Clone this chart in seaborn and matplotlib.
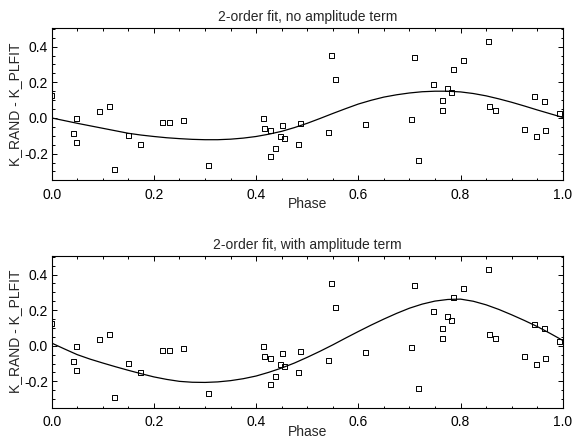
import numpy as np
import pandas as pd
import matplotlib
matplotlib.use("Agg")
import matplotlib.pyplot as plt
import seaborn as sns
from matplotlib.ticker import MultipleLocator, FormatStrFormatter

# ---- data ----
phase = [0.000, 0.0476, 0.0436, 0.0480, 0.0930, 0.1135, 0.1226, 0.1507, 0.1734,
         0.2159, 0.2309, 0.2576, 0.3059, 0.4141, 0.4168, 0.4272, 0.4291, 0.4376,
         0.4468, 0.4513, 0.4560, 0.4820, 0.4860, 0.5407, 0.5466, 0.5544, 0.6131,
         0.7037, 0.7090, 0.7174, 0.7462, 0.7644, 0.7651, 0.7750, 0.7820, 0.7853,
         0.8055, 0.8538, 0.8564, 0.8689, 0.9243, 0.9452, 0.9483, 0.9648, 0.9667,
         0.9934]
resid = [0.125, -0.004, -0.086, -0.138, 0.035, 0.062, -0.288, -0.097, -0.149,
         -0.024, -0.026, -0.015, -0.267, -0.004, -0.058, -0.069, -0.218, -0.172,
         -0.105, -0.045, -0.114, -0.148, -0.032, -0.082, 0.349, 0.213, -0.037,
         -0.009, 0.338, -0.239, 0.190, 0.099, 0.043, 0.166, 0.140, 0.273,
         0.323, 0.426, 0.066, 0.043, -0.063, 0.122, -0.106, 0.095, -0.071,
         0.024]

fit_phase = [0.000, 0.025, 0.050, 0.075, 0.100, 0.125, 0.150, 0.175, 0.200,
             0.225, 0.250, 0.275, 0.300, 0.325, 0.350, 0.375, 0.400, 0.425,
             0.450, 0.475, 0.500, 0.525, 0.550, 0.575, 0.600, 0.625, 0.650,
             0.675, 0.700, 0.725, 0.750, 0.775, 0.800, 0.825, 0.850, 0.875,
             0.900, 0.925, 0.950, 0.975, 1.000]
fit_no_amp = [0.000, -0.015, -0.030, -0.044, -0.058, -0.072, -0.086, -0.096,
              -0.104, -0.111, -0.116, -0.120, -0.122, -0.122, -0.119, -0.113,
              -0.104, -0.091, -0.075, -0.054, -0.030, -0.003, 0.025, 0.052,
              0.078, 0.099, 0.117, 0.130, 0.140, 0.147, 0.150, 0.150, 0.146,
              0.137, 0.124, 0.107, 0.088, 0.067, 0.045, 0.024, 0.003]
fit_amp = [0.015, -0.018, -0.050, -0.075, -0.097, -0.118, -0.138, -0.157,
           -0.175, -0.189, -0.200, -0.205, -0.206, -0.203, -0.196, -0.185,
           -0.170, -0.149, -0.125, -0.097, -0.065, -0.031, 0.005, 0.043,
           0.080, 0.116, 0.150, 0.182, 0.211, 0.234, 0.251, 0.260, 0.262,
           0.250, 0.230, 0.204, 0.174, 0.142, 0.108, 0.070, 0.030]

titles = ["2-order fit, no amplitude term", "2-order fit, with amplitude term"]
xlabel = "Phase"
ylabel = "K_RAND - K_PLFIT"

# ---- style ----
sns.set_style("ticks")
plt.rcParams["font.family"] = ["Liberation Sans", "DejaVu Sans"]
FS = 10

fig = plt.figure(figsize=(5.72, 4.4), dpi=100)
ax1 = fig.add_axes([0.0904, 0.5909, 0.8934, 0.3461])
ax2 = fig.add_axes([0.0904, 0.0734, 0.8934, 0.3455])

pts = pd.DataFrame({"phase": phase, "resid": resid})

for ax, fit, title in [(ax1, fit_no_amp, titles[0]), (ax2, fit_amp, titles[1])]:
    sns.scatterplot(data=pts, x="phase", y="resid", marker="s", s=13,
                    fc="none", ec="black", linewidth=0.7, ax=ax, zorder=3)
    sns.lineplot(x=fit_phase, y=fit, color="black", lw=0.9, ax=ax)
    ax.set_xlim(0, 1)
    ax.set_ylim(-0.348, 0.506)
    ax.xaxis.set_major_locator(MultipleLocator(0.2))
    ax.xaxis.set_minor_locator(MultipleLocator(0.05))
    ax.yaxis.set_major_locator(MultipleLocator(0.2))
    ax.yaxis.set_minor_locator(MultipleLocator(0.05))
    ax.xaxis.set_major_formatter(FormatStrFormatter("%.1f"))
    ax.yaxis.set_major_formatter(FormatStrFormatter("%.1f"))
    ax.tick_params(which="both", direction="in", top=True, right=True,
                   width=0.7, colors="black", labelsize=FS)
    ax.tick_params(which="major", length=3.6)
    ax.tick_params(which="minor", length=1.8)
    ax.tick_params(axis="x", which="major", pad=5.5)
    ax.tick_params(axis="y", which="major", pad=2.5)
    ax.set_title(title, fontsize=FS, pad=5)
    ax.set_xlabel(xlabel, fontsize=FS)
    ax.set_ylabel(ylabel, fontsize=FS)
    ax.xaxis.set_label_coords(0.5, -0.112)
    ax.yaxis.set_label_coords(-0.059, 0.5)
    for sp in ax.spines.values():
        sp.set_color("black")
        sp.set_linewidth(0.8)

fig.savefig("out.png", dpi=100)
